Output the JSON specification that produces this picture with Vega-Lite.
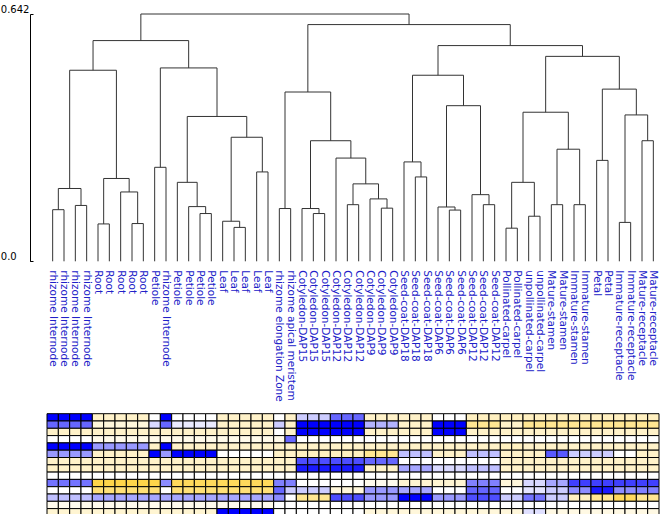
{
"$schema": "https://vega.github.io/schema/vega-lite/v6.json",
"autosize": {"type": "pad"},
"padding": {"top": 4, "left": 0, "right": 0, "bottom": 0},
"background": "white",
"bounds": "flush",
"spacing": 151.7,
"config": {"view": {"stroke": null}, "font": "DejaVu Sans"},
"vconcat": [
{
"width": 612, "height": 247.3,
"layer": [
{
"data": {"name": "merges", "values": [
{"xa":0,"ha":0,"xb":1,"hb":0,"h":0.134},
{"xa":2,"ha":0,"xb":3,"hb":0,"h":0.145},
{"xa":0.5,"ha":0.134,"xb":2.5,"hb":0.145,"h":0.189},
{"xa":4,"ha":0,"xb":5,"hb":0,"h":0.097},
{"xa":7,"ha":0,"xb":8,"hb":0,"h":0.098},
{"xa":6,"ha":0,"xb":7.5,"hb":0.098,"h":0.18},
{"xa":4.5,"ha":0.097,"xb":6.75,"hb":0.18,"h":0.215},
{"xa":1.5,"ha":0.189,"xb":5.625,"hb":0.215,"h":0.496},
{"xa":9,"ha":0,"xb":10,"hb":0,"h":0.244},
{"xa":13,"ha":0,"xb":14,"hb":0,"h":0.124},
{"xa":12,"ha":0,"xb":13.5,"hb":0.124,"h":0.142},
{"xa":11,"ha":0,"xb":12.75,"hb":0.142,"h":0.205},
{"xa":16,"ha":0,"xb":17,"hb":0,"h":0.088},
{"xa":15,"ha":0,"xb":16.5,"hb":0.088,"h":0.104},
{"xa":18,"ha":0,"xb":19,"hb":0,"h":0.232},
{"xa":15.75,"ha":0.104,"xb":18.5,"hb":0.232,"h":0.322},
{"xa":11.875,"ha":0.205,"xb":17.125,"hb":0.322,"h":0.376},
{"xa":9.5,"ha":0.244,"xb":14.5,"hb":0.376,"h":0.502},
{"xa":3.5625,"ha":0.496,"xb":12,"hb":0.502,"h":0.573},
{"xa":20,"ha":0,"xb":21,"hb":0,"h":0.137},
{"xa":23,"ha":0,"xb":24,"hb":0,"h":0.124},
{"xa":22,"ha":0,"xb":23.5,"hb":0.124,"h":0.137},
{"xa":26,"ha":0,"xb":27,"hb":0,"h":0.147},
{"xa":29,"ha":0,"xb":30,"hb":0,"h":0.138},
{"xa":28,"ha":0,"xb":29.5,"hb":0.138,"h":0.162},
{"xa":26.5,"ha":0.147,"xb":28.75,"hb":0.162,"h":0.201},
{"xa":25,"ha":0,"xb":27.625,"hb":0.201,"h":0.268},
{"xa":22.75,"ha":0.137,"xb":26.3125,"hb":0.268,"h":0.313},
{"xa":20.5,"ha":0.137,"xb":24.53125,"hb":0.313,"h":0.4395},
{"xa":32,"ha":0,"xb":33,"hb":0,"h":0.219},
{"xa":31,"ha":0,"xb":32.5,"hb":0.219,"h":0.258},
{"xa":35,"ha":0,"xb":36,"hb":0,"h":0.133},
{"xa":34,"ha":0,"xb":35.5,"hb":0.133,"h":0.141},
{"xa":38,"ha":0,"xb":39,"hb":0,"h":0.147},
{"xa":37,"ha":0,"xb":38.5,"hb":0.147,"h":0.173},
{"xa":34.75,"ha":0.141,"xb":37.75,"hb":0.173,"h":0.404},
{"xa":31.75,"ha":0.258,"xb":36.25,"hb":0.404,"h":0.483},
{"xa":40,"ha":0,"xb":41,"hb":0,"h":0.086},
{"xa":42,"ha":0,"xb":43,"hb":0,"h":0.117},
{"xa":40.5,"ha":0.086,"xb":42.5,"hb":0.117,"h":0.205},
{"xa":44,"ha":0,"xb":45,"hb":0,"h":0.147},
{"xa":46,"ha":0,"xb":47,"hb":0,"h":0.147},
{"xa":44.5,"ha":0.147,"xb":46.5,"hb":0.147,"h":0.291},
{"xa":41.5,"ha":0.205,"xb":45.5,"hb":0.291,"h":0.387},
{"xa":48,"ha":0,"xb":49,"hb":0,"h":0.262},
{"xa":50,"ha":0,"xb":51,"hb":0,"h":0.101},
{"xa":52,"ha":0,"xb":53,"hb":0,"h":0.313},
{"xa":50.5,"ha":0.101,"xb":52.5,"hb":0.313,"h":0.38},
{"xa":48.5,"ha":0.262,"xb":51.5,"hb":0.38,"h":0.447},
{"xa":43.5,"ha":0.387,"xb":50,"hb":0.447,"h":0.532},
{"xa":34,"ha":0.483,"xb":46.75,"hb":0.532,"h":0.56},
{"xa":22.515625,"ha":0.4395,"xb":40.375,"hb":0.56,"h":0.6145},
{"xa":7.78125,"ha":0.573,"xb":31.4453,"hb":0.6145,"h":0.642}
]},
"mark": {"type": "rule", "color": "#333333", "strokeWidth": 1},
"encoding": {
"x": {"field": "xa", "type": "quantitative", "scale": {"domain": [-0.5, 53.5], "nice": false, "zero": false}, "axis": null},
"y": {"field": "ha", "type": "quantitative", "scale": {"domain": [0, 0.642], "nice": false, "zero": false},
"axis": {"title": null, "values": [0, 0.642], "labelExpr": "datum.value == 0 ? '0.0' : format(datum.value, '.3f')", "grid": false, "domainColor": "#000000", "tickColor": "#000000", "tickSize": -3, "labelColor": "#000000", "labelFont": "DejaVu Sans", "labelFontSize": 10, "labelAlign": "left", "labelBaseline": "bottom", "labelPadding": 32.7, "offset": 17}},
"y2": {"field": "h"}
}
},
{
"data": {"name": "merges"},
"mark": {"type": "rule", "color": "#333333", "strokeWidth": 1},
"encoding": {
"x": {"field": "xa", "type": "quantitative"},
"x2": {"field": "xb"},
"y": {"field": "h", "type": "quantitative"}
}
},
{
"data": {"name": "merges"},
"mark": {"type": "rule", "color": "#333333", "strokeWidth": 1},
"encoding": {
"x": {"field": "xb", "type": "quantitative"},
"y": {"field": "hb", "type": "quantitative"},
"y2": {"field": "h"}
}
},
{
"data": {"values": [
{"i":0,"name":"rhizome Internode"},{"i":1,"name":"rhizome Internode"},{"i":2,"name":"rhizome Internode"},{"i":3,"name":"rhizome Internode"},
{"i":4,"name":"Root"},{"i":5,"name":"Root"},{"i":6,"name":"Root"},{"i":7,"name":"Root"},{"i":8,"name":"Root"},
{"i":9,"name":"Petiole"},{"i":10,"name":"rhizome Internode"},
{"i":11,"name":"Petiole"},{"i":12,"name":"Petiole"},{"i":13,"name":"Petiole"},{"i":14,"name":"Petiole"},
{"i":15,"name":"Leaf"},{"i":16,"name":"Leaf"},{"i":17,"name":"Leaf"},{"i":18,"name":"Leaf"},{"i":19,"name":"Leaf"},
{"i":20,"name":"rhizome elongation Zone"},{"i":21,"name":"rhizome apical meristem"},
{"i":22,"name":"Cotyledon-DAP15"},{"i":23,"name":"Cotyledon-DAP15"},{"i":24,"name":"Cotyledon-DAP15"},
{"i":25,"name":"Cotyledon-DAP12"},{"i":26,"name":"Cotyledon-DAP12"},{"i":27,"name":"Cotyledon-DAP12"},
{"i":28,"name":"Cotyledon-DAP9"},{"i":29,"name":"Cotyledon-DAP9"},{"i":30,"name":"Cotyledon-DAP9"},
{"i":31,"name":"Seed-coat-DAP18"},{"i":32,"name":"Seed-coat-DAP18"},{"i":33,"name":"Seed-coat-DAP18"},
{"i":34,"name":"Seed-coat-DAP6"},{"i":35,"name":"Seed-coat-DAP6"},{"i":36,"name":"Seed-coat-DAP6"},
{"i":37,"name":"Seed-coat-DAP12"},{"i":38,"name":"Seed-coat-DAP12"},{"i":39,"name":"Seed-coat-DAP12"},
{"i":40,"name":"Pollinated-carpel"},{"i":41,"name":"Pollinated-carpel"},
{"i":42,"name":"unpollinated-carpel"},{"i":43,"name":"unpollinated-carpel"},
{"i":44,"name":"Mature-stamen"},{"i":45,"name":"Mature-stamen"},
{"i":46,"name":"Immature-stamen"},{"i":47,"name":"Immature-stamen"},
{"i":48,"name":"Petal"},{"i":49,"name":"Petal"},
{"i":50,"name":"Immature-receptacle"},{"i":51,"name":"Immature-receptacle"},
{"i":52,"name":"Mature-receptacle"},{"i":53,"name":"Mature-receptacle"}
]},
"mark": {"type": "text", "angle": 90, "align": "left", "baseline": "middle", "dx": 9, "font": "DejaVu Sans", "fontSize": 10.5, "color": "#2020c8"},
"encoding": {
"x": {"field": "i", "type": "quantitative"},
"y": {"datum": 0, "type": "quantitative"},
"text": {"field": "name"}
}
}
]
},
{
"width": 612, "height": 102.2,
"data": {"values": [
{"r":0,"c":0,"v":1},{"r":0,"c":1,"v":1},{"r":0,"c":2,"v":1},{"r":0,"c":3,"v":1},{"r":0,"c":4,"v":-0.3},{"r":0,"c":5,"v":-0.3},{"r":0,"c":6,"v":-0.3},{"r":0,"c":7,"v":-0.3},{"r":0,"c":8,"v":-0.3},{"r":0,"c":9,"v":0},{"r":0,"c":10,"v":1},{"r":0,"c":11,"v":0},{"r":0,"c":12,"v":0},{"r":0,"c":13,"v":0},{"r":0,"c":14,"v":0},{"r":0,"c":15,"v":-0.3},{"r":0,"c":16,"v":-0.3},{"r":0,"c":17,"v":-0.3},{"r":0,"c":18,"v":-0.3},{"r":0,"c":19,"v":-0.3},{"r":0,"c":20,"v":0},{"r":0,"c":21,"v":-0.3},{"r":0,"c":22,"v":0.2},{"r":0,"c":23,"v":0.2},{"r":0,"c":24,"v":0.2},{"r":0,"c":25,"v":0.6},{"r":0,"c":26,"v":0.6},{"r":0,"c":27,"v":0.6},{"r":0,"c":28,"v":-0.3},{"r":0,"c":29,"v":-0.3},{"r":0,"c":30,"v":-0.3},{"r":0,"c":31,"v":-0.3},{"r":0,"c":32,"v":-0.3},{"r":0,"c":33,"v":-0.3},{"r":0,"c":34,"v":0},{"r":0,"c":35,"v":0},{"r":0,"c":36,"v":0},{"r":0,"c":37,"v":-0.35},{"r":0,"c":38,"v":-0.35},{"r":0,"c":39,"v":-0.35},{"r":0,"c":40,"v":-0.35},{"r":0,"c":41,"v":-0.35},{"r":0,"c":42,"v":-0.35},{"r":0,"c":43,"v":-0.35},{"r":0,"c":44,"v":-0.35},{"r":0,"c":45,"v":-0.35},{"r":0,"c":46,"v":-0.35},{"r":0,"c":47,"v":-0.35},{"r":0,"c":48,"v":-0.35},{"r":0,"c":49,"v":-0.35},{"r":0,"c":50,"v":-0.35},{"r":0,"c":51,"v":-0.35},{"r":0,"c":52,"v":-0.35},{"r":0,"c":53,"v":-0.35},
{"r":1,"c":0,"v":0.6},{"r":1,"c":1,"v":0.6},{"r":1,"c":2,"v":0.6},{"r":1,"c":3,"v":0.6},{"r":1,"c":4,"v":-0.2},{"r":1,"c":5,"v":-0.2},{"r":1,"c":6,"v":-0.2},{"r":1,"c":7,"v":-0.2},{"r":1,"c":8,"v":-0.2},{"r":1,"c":9,"v":0.15},{"r":1,"c":10,"v":0.6},{"r":1,"c":11,"v":0.08},{"r":1,"c":12,"v":0.08},{"r":1,"c":13,"v":0.08},{"r":1,"c":14,"v":0.08},{"r":1,"c":15,"v":-0.3},{"r":1,"c":16,"v":-0.3},{"r":1,"c":17,"v":-0.3},{"r":1,"c":18,"v":-0.3},{"r":1,"c":19,"v":-0.3},{"r":1,"c":20,"v":0.2},{"r":1,"c":21,"v":-0.3},{"r":1,"c":22,"v":1},{"r":1,"c":23,"v":1},{"r":1,"c":24,"v":1},{"r":1,"c":25,"v":1},{"r":1,"c":26,"v":1},{"r":1,"c":27,"v":1},{"r":1,"c":28,"v":0.3},{"r":1,"c":29,"v":0.3},{"r":1,"c":30,"v":0.3},{"r":1,"c":31,"v":-0.3},{"r":1,"c":32,"v":-0.3},{"r":1,"c":33,"v":-0.3},{"r":1,"c":34,"v":1},{"r":1,"c":35,"v":1},{"r":1,"c":36,"v":1},{"r":1,"c":37,"v":-0.6},{"r":1,"c":38,"v":-0.6},{"r":1,"c":39,"v":-0.6},{"r":1,"c":40,"v":-0.3},{"r":1,"c":41,"v":-0.3},{"r":1,"c":42,"v":-0.6},{"r":1,"c":43,"v":-0.6},{"r":1,"c":44,"v":-0.6},{"r":1,"c":45,"v":-0.6},{"r":1,"c":46,"v":-0.6},{"r":1,"c":47,"v":-0.6},{"r":1,"c":48,"v":-0.6},{"r":1,"c":49,"v":-0.6},{"r":1,"c":50,"v":-0.6},{"r":1,"c":51,"v":-0.6},{"r":1,"c":52,"v":-0.6},{"r":1,"c":53,"v":-0.6},
{"r":2,"c":0,"v":-0.3},{"r":2,"c":1,"v":-0.3},{"r":2,"c":2,"v":-0.3},{"r":2,"c":3,"v":-0.3},{"r":2,"c":4,"v":-0.3},{"r":2,"c":5,"v":-0.3},{"r":2,"c":6,"v":-0.3},{"r":2,"c":7,"v":-0.3},{"r":2,"c":8,"v":-0.3},{"r":2,"c":9,"v":-0.3},{"r":2,"c":10,"v":-0.3},{"r":2,"c":11,"v":-0.3},{"r":2,"c":12,"v":-0.3},{"r":2,"c":13,"v":-0.3},{"r":2,"c":14,"v":-0.3},{"r":2,"c":15,"v":-0.3},{"r":2,"c":16,"v":-0.3},{"r":2,"c":17,"v":-0.3},{"r":2,"c":18,"v":-0.3},{"r":2,"c":19,"v":-0.3},{"r":2,"c":20,"v":0},{"r":2,"c":21,"v":-0.3},{"r":2,"c":22,"v":1},{"r":2,"c":23,"v":1},{"r":2,"c":24,"v":1},{"r":2,"c":25,"v":1},{"r":2,"c":26,"v":1},{"r":2,"c":27,"v":1},{"r":2,"c":28,"v":-0.3},{"r":2,"c":29,"v":-0.3},{"r":2,"c":30,"v":-0.3},{"r":2,"c":31,"v":-0.3},{"r":2,"c":32,"v":-0.3},{"r":2,"c":33,"v":-0.3},{"r":2,"c":34,"v":1},{"r":2,"c":35,"v":1},{"r":2,"c":36,"v":1},{"r":2,"c":37,"v":-0.3},{"r":2,"c":38,"v":-0.3},{"r":2,"c":39,"v":-0.3},{"r":2,"c":40,"v":-0.3},{"r":2,"c":41,"v":-0.3},{"r":2,"c":42,"v":-0.3},{"r":2,"c":43,"v":-0.3},{"r":2,"c":44,"v":-0.3},{"r":2,"c":45,"v":-0.3},{"r":2,"c":46,"v":-0.3},{"r":2,"c":47,"v":-0.3},{"r":2,"c":48,"v":-0.3},{"r":2,"c":49,"v":-0.3},{"r":2,"c":50,"v":-0.3},{"r":2,"c":51,"v":-0.3},{"r":2,"c":52,"v":-0.3},{"r":2,"c":53,"v":-0.3},
{"r":3,"c":0,"v":0},{"r":3,"c":1,"v":0},{"r":3,"c":2,"v":0},{"r":3,"c":3,"v":0},{"r":3,"c":4,"v":-0.12},{"r":3,"c":5,"v":-0.12},{"r":3,"c":6,"v":-0.12},{"r":3,"c":7,"v":-0.12},{"r":3,"c":8,"v":-0.12},{"r":3,"c":9,"v":-0.12},{"r":3,"c":10,"v":-0.12},{"r":3,"c":11,"v":-0.12},{"r":3,"c":12,"v":-0.12},{"r":3,"c":13,"v":-0.12},{"r":3,"c":14,"v":-0.12},{"r":3,"c":15,"v":-0.12},{"r":3,"c":16,"v":-0.12},{"r":3,"c":17,"v":-0.12},{"r":3,"c":18,"v":-0.12},{"r":3,"c":19,"v":-0.12},{"r":3,"c":20,"v":-0.12},{"r":3,"c":21,"v":0.6},{"r":3,"c":22,"v":0},{"r":3,"c":23,"v":0},{"r":3,"c":24,"v":0},{"r":3,"c":25,"v":0},{"r":3,"c":26,"v":0},{"r":3,"c":27,"v":0},{"r":3,"c":28,"v":0},{"r":3,"c":29,"v":0},{"r":3,"c":30,"v":0},{"r":3,"c":31,"v":0},{"r":3,"c":32,"v":0},{"r":3,"c":33,"v":0},{"r":3,"c":34,"v":0},{"r":3,"c":35,"v":0},{"r":3,"c":36,"v":0},{"r":3,"c":37,"v":0},{"r":3,"c":38,"v":0},{"r":3,"c":39,"v":0},{"r":3,"c":40,"v":0},{"r":3,"c":41,"v":0},{"r":3,"c":42,"v":0},{"r":3,"c":43,"v":0},{"r":3,"c":44,"v":0},{"r":3,"c":45,"v":0},{"r":3,"c":46,"v":0},{"r":3,"c":47,"v":0},{"r":3,"c":48,"v":0},{"r":3,"c":49,"v":0},{"r":3,"c":50,"v":0},{"r":3,"c":51,"v":0},{"r":3,"c":52,"v":0},{"r":3,"c":53,"v":0},
{"r":4,"c":0,"v":1},{"r":4,"c":1,"v":1},{"r":4,"c":2,"v":1},{"r":4,"c":3,"v":1},{"r":4,"c":4,"v":0.4},{"r":4,"c":5,"v":0.4},{"r":4,"c":6,"v":0.4},{"r":4,"c":7,"v":0.4},{"r":4,"c":8,"v":0.4},{"r":4,"c":9,"v":-0.3},{"r":4,"c":10,"v":1},{"r":4,"c":11,"v":-0.3},{"r":4,"c":12,"v":-0.3},{"r":4,"c":13,"v":-0.3},{"r":4,"c":14,"v":-0.3},{"r":4,"c":15,"v":-0.3},{"r":4,"c":16,"v":-0.3},{"r":4,"c":17,"v":-0.3},{"r":4,"c":18,"v":-0.3},{"r":4,"c":19,"v":-0.3},{"r":4,"c":20,"v":-0.3},{"r":4,"c":21,"v":-0.3},{"r":4,"c":22,"v":-0.3},{"r":4,"c":23,"v":-0.3},{"r":4,"c":24,"v":-0.3},{"r":4,"c":25,"v":-0.3},{"r":4,"c":26,"v":-0.3},{"r":4,"c":27,"v":-0.3},{"r":4,"c":28,"v":-0.3},{"r":4,"c":29,"v":-0.3},{"r":4,"c":30,"v":-0.3},{"r":4,"c":31,"v":-0.3},{"r":4,"c":32,"v":-0.3},{"r":4,"c":33,"v":-0.3},{"r":4,"c":34,"v":-0.3},{"r":4,"c":35,"v":-0.3},{"r":4,"c":36,"v":-0.3},{"r":4,"c":37,"v":-0.3},{"r":4,"c":38,"v":-0.3},{"r":4,"c":39,"v":-0.3},{"r":4,"c":40,"v":-0.35},{"r":4,"c":41,"v":-0.35},{"r":4,"c":42,"v":-0.3},{"r":4,"c":43,"v":-0.3},{"r":4,"c":44,"v":-0.3},{"r":4,"c":45,"v":-0.3},{"r":4,"c":46,"v":-0.3},{"r":4,"c":47,"v":-0.3},{"r":4,"c":48,"v":-0.3},{"r":4,"c":49,"v":-0.3},{"r":4,"c":50,"v":-0.3},{"r":4,"c":51,"v":-0.3},{"r":4,"c":52,"v":-0.3},{"r":4,"c":53,"v":-0.3},
{"r":5,"c":0,"v":0.4},{"r":5,"c":1,"v":0.4},{"r":5,"c":2,"v":0.4},{"r":5,"c":3,"v":0.4},{"r":5,"c":4,"v":-0.3},{"r":5,"c":5,"v":-0.3},{"r":5,"c":6,"v":-0.3},{"r":5,"c":7,"v":-0.3},{"r":5,"c":8,"v":-0.3},{"r":5,"c":9,"v":1},{"r":5,"c":10,"v":0.4},{"r":5,"c":11,"v":1},{"r":5,"c":12,"v":1},{"r":5,"c":13,"v":1},{"r":5,"c":14,"v":1},{"r":5,"c":15,"v":0},{"r":5,"c":16,"v":0},{"r":5,"c":17,"v":0},{"r":5,"c":18,"v":0},{"r":5,"c":19,"v":0},{"r":5,"c":20,"v":-0.3},{"r":5,"c":21,"v":-0.3},{"r":5,"c":22,"v":-0.35},{"r":5,"c":23,"v":-0.35},{"r":5,"c":24,"v":-0.35},{"r":5,"c":25,"v":-0.35},{"r":5,"c":26,"v":-0.35},{"r":5,"c":27,"v":-0.35},{"r":5,"c":28,"v":-0.6},{"r":5,"c":29,"v":-0.6},{"r":5,"c":30,"v":-0.6},{"r":5,"c":31,"v":0.25},{"r":5,"c":32,"v":0.25},{"r":5,"c":33,"v":0.25},{"r":5,"c":34,"v":-0.3},{"r":5,"c":35,"v":-0.3},{"r":5,"c":36,"v":-0.3},{"r":5,"c":37,"v":0.25},{"r":5,"c":38,"v":0.25},{"r":5,"c":39,"v":0.25},{"r":5,"c":40,"v":-0.3},{"r":5,"c":41,"v":-0.3},{"r":5,"c":42,"v":-0.3},{"r":5,"c":43,"v":-0.3},{"r":5,"c":44,"v":0.65},{"r":5,"c":45,"v":0.65},{"r":5,"c":46,"v":0.2},{"r":5,"c":47,"v":0.2},{"r":5,"c":48,"v":0.2},{"r":5,"c":49,"v":0.2},{"r":5,"c":50,"v":0},{"r":5,"c":51,"v":0},{"r":5,"c":52,"v":-0.3},{"r":5,"c":53,"v":-0.3},
{"r":6,"c":0,"v":-0.3},{"r":6,"c":1,"v":-0.3},{"r":6,"c":2,"v":-0.3},{"r":6,"c":3,"v":-0.3},{"r":6,"c":4,"v":-0.3},{"r":6,"c":5,"v":-0.3},{"r":6,"c":6,"v":-0.3},{"r":6,"c":7,"v":-0.3},{"r":6,"c":8,"v":-0.3},{"r":6,"c":9,"v":-0.3},{"r":6,"c":10,"v":-0.3},{"r":6,"c":11,"v":-0.3},{"r":6,"c":12,"v":-0.3},{"r":6,"c":13,"v":-0.3},{"r":6,"c":14,"v":-0.3},{"r":6,"c":15,"v":-0.3},{"r":6,"c":16,"v":-0.3},{"r":6,"c":17,"v":-0.3},{"r":6,"c":18,"v":-0.3},{"r":6,"c":19,"v":-0.3},{"r":6,"c":20,"v":-0.3},{"r":6,"c":21,"v":-0.3},{"r":6,"c":22,"v":0.7},{"r":6,"c":23,"v":0.7},{"r":6,"c":24,"v":0.7},{"r":6,"c":25,"v":0.7},{"r":6,"c":26,"v":0.7},{"r":6,"c":27,"v":0.7},{"r":6,"c":28,"v":0.6},{"r":6,"c":29,"v":0.6},{"r":6,"c":30,"v":0.6},{"r":6,"c":31,"v":0},{"r":6,"c":32,"v":0},{"r":6,"c":33,"v":0},{"r":6,"c":34,"v":0},{"r":6,"c":35,"v":0},{"r":6,"c":36,"v":0},{"r":6,"c":37,"v":0},{"r":6,"c":38,"v":0},{"r":6,"c":39,"v":0},{"r":6,"c":40,"v":-0.3},{"r":6,"c":41,"v":-0.3},{"r":6,"c":42,"v":-0.3},{"r":6,"c":43,"v":-0.3},{"r":6,"c":44,"v":-0.3},{"r":6,"c":45,"v":-0.3},{"r":6,"c":46,"v":-0.3},{"r":6,"c":47,"v":-0.3},{"r":6,"c":48,"v":-0.3},{"r":6,"c":49,"v":-0.3},{"r":6,"c":50,"v":-0.3},{"r":6,"c":51,"v":-0.3},{"r":6,"c":52,"v":-0.3},{"r":6,"c":53,"v":-0.3},
{"r":7,"c":0,"v":-0.3},{"r":7,"c":1,"v":-0.3},{"r":7,"c":2,"v":-0.3},{"r":7,"c":3,"v":-0.3},{"r":7,"c":4,"v":-0.3},{"r":7,"c":5,"v":-0.3},{"r":7,"c":6,"v":-0.3},{"r":7,"c":7,"v":-0.3},{"r":7,"c":8,"v":-0.3},{"r":7,"c":9,"v":-0.3},{"r":7,"c":10,"v":-0.3},{"r":7,"c":11,"v":-0.3},{"r":7,"c":12,"v":-0.3},{"r":7,"c":13,"v":-0.3},{"r":7,"c":14,"v":-0.3},{"r":7,"c":15,"v":-0.3},{"r":7,"c":16,"v":-0.3},{"r":7,"c":17,"v":-0.3},{"r":7,"c":18,"v":-0.3},{"r":7,"c":19,"v":-0.3},{"r":7,"c":20,"v":-0.3},{"r":7,"c":21,"v":-0.3},{"r":7,"c":22,"v":0.9},{"r":7,"c":23,"v":0.9},{"r":7,"c":24,"v":0.9},{"r":7,"c":25,"v":0.9},{"r":7,"c":26,"v":0.9},{"r":7,"c":27,"v":0.9},{"r":7,"c":28,"v":-0.3},{"r":7,"c":29,"v":-0.3},{"r":7,"c":30,"v":-0.3},{"r":7,"c":31,"v":0.35},{"r":7,"c":32,"v":0.35},{"r":7,"c":33,"v":0.35},{"r":7,"c":34,"v":0.15},{"r":7,"c":35,"v":0.15},{"r":7,"c":36,"v":0.15},{"r":7,"c":37,"v":0.25},{"r":7,"c":38,"v":0.25},{"r":7,"c":39,"v":0.25},{"r":7,"c":40,"v":-0.3},{"r":7,"c":41,"v":-0.3},{"r":7,"c":42,"v":-0.3},{"r":7,"c":43,"v":-0.3},{"r":7,"c":44,"v":-0.3},{"r":7,"c":45,"v":-0.3},{"r":7,"c":46,"v":-0.3},{"r":7,"c":47,"v":-0.3},{"r":7,"c":48,"v":-0.3},{"r":7,"c":49,"v":-0.3},{"r":7,"c":50,"v":-0.3},{"r":7,"c":51,"v":-0.3},{"r":7,"c":52,"v":-0.3},{"r":7,"c":53,"v":-0.3},
{"r":8,"c":0,"v":0},{"r":8,"c":1,"v":0},{"r":8,"c":2,"v":0},{"r":8,"c":3,"v":0},{"r":8,"c":4,"v":0},{"r":8,"c":5,"v":0},{"r":8,"c":6,"v":0},{"r":8,"c":7,"v":0},{"r":8,"c":8,"v":0},{"r":8,"c":9,"v":0},{"r":8,"c":10,"v":0},{"r":8,"c":11,"v":0},{"r":8,"c":12,"v":0},{"r":8,"c":13,"v":0},{"r":8,"c":14,"v":0},{"r":8,"c":15,"v":0},{"r":8,"c":16,"v":0},{"r":8,"c":17,"v":0},{"r":8,"c":18,"v":0},{"r":8,"c":19,"v":0},{"r":8,"c":20,"v":0},{"r":8,"c":21,"v":0},{"r":8,"c":22,"v":0},{"r":8,"c":23,"v":0},{"r":8,"c":24,"v":0},{"r":8,"c":25,"v":0},{"r":8,"c":26,"v":0},{"r":8,"c":27,"v":0},{"r":8,"c":28,"v":0},{"r":8,"c":29,"v":0},{"r":8,"c":30,"v":0},{"r":8,"c":31,"v":0},{"r":8,"c":32,"v":0},{"r":8,"c":33,"v":0},{"r":8,"c":34,"v":0},{"r":8,"c":35,"v":0},{"r":8,"c":36,"v":0},{"r":8,"c":37,"v":0},{"r":8,"c":38,"v":0},{"r":8,"c":39,"v":0},{"r":8,"c":40,"v":0},{"r":8,"c":41,"v":0},{"r":8,"c":42,"v":0},{"r":8,"c":43,"v":0},{"r":8,"c":44,"v":0},{"r":8,"c":45,"v":0},{"r":8,"c":46,"v":0},{"r":8,"c":47,"v":0},{"r":8,"c":48,"v":0},{"r":8,"c":49,"v":0},{"r":8,"c":50,"v":0},{"r":8,"c":51,"v":0},{"r":8,"c":52,"v":0},{"r":8,"c":53,"v":0},
{"r":9,"c":0,"v":0.55},{"r":9,"c":1,"v":0.55},{"r":9,"c":2,"v":0.55},{"r":9,"c":3,"v":0.55},{"r":9,"c":4,"v":-1},{"r":9,"c":5,"v":-1},{"r":9,"c":6,"v":-1},{"r":9,"c":7,"v":-1},{"r":9,"c":8,"v":-1},{"r":9,"c":9,"v":-1},{"r":9,"c":10,"v":0.45},{"r":9,"c":11,"v":-0.9},{"r":9,"c":12,"v":-0.9},{"r":9,"c":13,"v":-0.9},{"r":9,"c":14,"v":-0.9},{"r":9,"c":15,"v":-0.9},{"r":9,"c":16,"v":-0.9},{"r":9,"c":17,"v":-0.9},{"r":9,"c":18,"v":-0.9},{"r":9,"c":19,"v":-0.9},{"r":9,"c":20,"v":0.5},{"r":9,"c":21,"v":0.5},{"r":9,"c":22,"v":0},{"r":9,"c":23,"v":0},{"r":9,"c":24,"v":0},{"r":9,"c":25,"v":0},{"r":9,"c":26,"v":0},{"r":9,"c":27,"v":0},{"r":9,"c":28,"v":-0.1},{"r":9,"c":29,"v":-0.1},{"r":9,"c":30,"v":-0.1},{"r":9,"c":31,"v":-0.25},{"r":9,"c":32,"v":-0.25},{"r":9,"c":33,"v":-0.25},{"r":9,"c":34,"v":-0.25},{"r":9,"c":35,"v":-0.25},{"r":9,"c":36,"v":-0.25},{"r":9,"c":37,"v":0.5},{"r":9,"c":38,"v":0.5},{"r":9,"c":39,"v":0.5},{"r":9,"c":40,"v":-0.2},{"r":9,"c":41,"v":-0.2},{"r":9,"c":42,"v":0.15},{"r":9,"c":43,"v":0.15},{"r":9,"c":44,"v":0.35},{"r":9,"c":45,"v":0.35},{"r":9,"c":46,"v":0.75},{"r":9,"c":47,"v":0.75},{"r":9,"c":48,"v":0.75},{"r":9,"c":49,"v":0.75},{"r":9,"c":50,"v":0.75},{"r":9,"c":51,"v":0.75},{"r":9,"c":52,"v":0.75},{"r":9,"c":53,"v":0.75},
{"r":10,"c":0,"v":0},{"r":10,"c":1,"v":0},{"r":10,"c":2,"v":0},{"r":10,"c":3,"v":0},{"r":10,"c":4,"v":-0.75},{"r":10,"c":5,"v":-0.75},{"r":10,"c":6,"v":-0.75},{"r":10,"c":7,"v":-0.75},{"r":10,"c":8,"v":-0.75},{"r":10,"c":9,"v":-0.75},{"r":10,"c":10,"v":0},{"r":10,"c":11,"v":-0.75},{"r":10,"c":12,"v":-0.75},{"r":10,"c":13,"v":-0.75},{"r":10,"c":14,"v":-0.75},{"r":10,"c":15,"v":-0.75},{"r":10,"c":16,"v":-0.75},{"r":10,"c":17,"v":-0.75},{"r":10,"c":18,"v":-0.75},{"r":10,"c":19,"v":-0.75},{"r":10,"c":20,"v":0.6},{"r":10,"c":21,"v":0.2},{"r":10,"c":22,"v":0.2},{"r":10,"c":23,"v":0.2},{"r":10,"c":24,"v":0.2},{"r":10,"c":25,"v":-0.2},{"r":10,"c":26,"v":-0.2},{"r":10,"c":27,"v":-0.2},{"r":10,"c":28,"v":0.4},{"r":10,"c":29,"v":0.4},{"r":10,"c":30,"v":0.4},{"r":10,"c":31,"v":0.35},{"r":10,"c":32,"v":0.35},{"r":10,"c":33,"v":0.35},{"r":10,"c":34,"v":0},{"r":10,"c":35,"v":0},{"r":10,"c":36,"v":0},{"r":10,"c":37,"v":0.6},{"r":10,"c":38,"v":0.6},{"r":10,"c":39,"v":0.6},{"r":10,"c":40,"v":0},{"r":10,"c":41,"v":0},{"r":10,"c":42,"v":0.1},{"r":10,"c":43,"v":0.1},{"r":10,"c":44,"v":0.2},{"r":10,"c":45,"v":0.2},{"r":10,"c":46,"v":0.45},{"r":10,"c":47,"v":0.45},{"r":10,"c":48,"v":0.9},{"r":10,"c":49,"v":0.9},{"r":10,"c":50,"v":0.45},{"r":10,"c":51,"v":0.45},{"r":10,"c":52,"v":0.5},{"r":10,"c":53,"v":0.5},
{"r":11,"c":0,"v":0.25},{"r":11,"c":1,"v":0.25},{"r":11,"c":2,"v":0.25},{"r":11,"c":3,"v":0.25},{"r":11,"c":4,"v":0.35},{"r":11,"c":5,"v":0.35},{"r":11,"c":6,"v":0.35},{"r":11,"c":7,"v":0.35},{"r":11,"c":8,"v":0.35},{"r":11,"c":9,"v":0.35},{"r":11,"c":10,"v":0.35},{"r":11,"c":11,"v":0.35},{"r":11,"c":12,"v":0.35},{"r":11,"c":13,"v":0.35},{"r":11,"c":14,"v":0.35},{"r":11,"c":15,"v":0.35},{"r":11,"c":16,"v":0.35},{"r":11,"c":17,"v":0.35},{"r":11,"c":18,"v":0.35},{"r":11,"c":19,"v":0.35},{"r":11,"c":20,"v":0.45},{"r":11,"c":21,"v":0},{"r":11,"c":22,"v":-0.6},{"r":11,"c":23,"v":-0.6},{"r":11,"c":24,"v":-0.6},{"r":11,"c":25,"v":0.7},{"r":11,"c":26,"v":0.7},{"r":11,"c":27,"v":0.7},{"r":11,"c":28,"v":0.4},{"r":11,"c":29,"v":0.4},{"r":11,"c":30,"v":0.4},{"r":11,"c":31,"v":1},{"r":11,"c":32,"v":1},{"r":11,"c":33,"v":1},{"r":11,"c":34,"v":0.4},{"r":11,"c":35,"v":0.4},{"r":11,"c":36,"v":0.4},{"r":11,"c":37,"v":0.7},{"r":11,"c":38,"v":0.7},{"r":11,"c":39,"v":0.7},{"r":11,"c":40,"v":0.2},{"r":11,"c":41,"v":0.2},{"r":11,"c":42,"v":0.55},{"r":11,"c":43,"v":0.55},{"r":11,"c":44,"v":0.2},{"r":11,"c":45,"v":0.2},{"r":11,"c":46,"v":-0.35},{"r":11,"c":47,"v":-0.35},{"r":11,"c":48,"v":-0.6},{"r":11,"c":49,"v":-0.6},{"r":11,"c":50,"v":-0.9},{"r":11,"c":51,"v":-0.9},{"r":11,"c":52,"v":-0.6},{"r":11,"c":53,"v":-0.6},
{"r":12,"c":0,"v":-0.1},{"r":12,"c":1,"v":-0.1},{"r":12,"c":2,"v":-0.1},{"r":12,"c":3,"v":-0.1},{"r":12,"c":4,"v":-0.1},{"r":12,"c":5,"v":-0.1},{"r":12,"c":6,"v":-0.1},{"r":12,"c":7,"v":-0.1},{"r":12,"c":8,"v":-0.1},{"r":12,"c":9,"v":-0.1},{"r":12,"c":10,"v":-0.1},{"r":12,"c":11,"v":-0.1},{"r":12,"c":12,"v":-0.1},{"r":12,"c":13,"v":-0.1},{"r":12,"c":14,"v":-0.1},{"r":12,"c":15,"v":-0.1},{"r":12,"c":16,"v":-0.1},{"r":12,"c":17,"v":-0.1},{"r":12,"c":18,"v":-0.1},{"r":12,"c":19,"v":-0.1},{"r":12,"c":20,"v":0},{"r":12,"c":21,"v":0},{"r":12,"c":22,"v":0},{"r":12,"c":23,"v":0},{"r":12,"c":24,"v":0},{"r":12,"c":25,"v":0},{"r":12,"c":26,"v":0},{"r":12,"c":27,"v":0},{"r":12,"c":28,"v":0},{"r":12,"c":29,"v":0},{"r":12,"c":30,"v":0},{"r":12,"c":31,"v":0},{"r":12,"c":32,"v":0},{"r":12,"c":33,"v":0},{"r":12,"c":34,"v":0},{"r":12,"c":35,"v":0},{"r":12,"c":36,"v":0},{"r":12,"c":37,"v":0},{"r":12,"c":38,"v":0},{"r":12,"c":39,"v":0},{"r":12,"c":40,"v":0},{"r":12,"c":41,"v":0},{"r":12,"c":42,"v":0},{"r":12,"c":43,"v":0},{"r":12,"c":44,"v":0},{"r":12,"c":45,"v":0},{"r":12,"c":46,"v":0},{"r":12,"c":47,"v":0},{"r":12,"c":48,"v":0},{"r":12,"c":49,"v":0},{"r":12,"c":50,"v":0},{"r":12,"c":51,"v":0},{"r":12,"c":52,"v":0},{"r":12,"c":53,"v":0},
{"r":13,"c":0,"v":-0.25},{"r":13,"c":1,"v":-0.25},{"r":13,"c":2,"v":-0.25},{"r":13,"c":3,"v":-0.25},{"r":13,"c":4,"v":-0.25},{"r":13,"c":5,"v":-0.25},{"r":13,"c":6,"v":-0.25},{"r":13,"c":7,"v":-0.25},{"r":13,"c":8,"v":-0.25},{"r":13,"c":9,"v":-0.25},{"r":13,"c":10,"v":-0.25},{"r":13,"c":11,"v":-0.25},{"r":13,"c":12,"v":-0.25},{"r":13,"c":13,"v":-0.25},{"r":13,"c":14,"v":-0.25},{"r":13,"c":15,"v":1},{"r":13,"c":16,"v":1},{"r":13,"c":17,"v":1},{"r":13,"c":18,"v":1},{"r":13,"c":19,"v":1},{"r":13,"c":20,"v":0},{"r":13,"c":21,"v":0},{"r":13,"c":22,"v":0},{"r":13,"c":23,"v":0},{"r":13,"c":24,"v":0},{"r":13,"c":25,"v":0},{"r":13,"c":26,"v":0},{"r":13,"c":27,"v":0},{"r":13,"c":28,"v":-0.2},{"r":13,"c":29,"v":-0.2},{"r":13,"c":30,"v":-0.2},{"r":13,"c":31,"v":-0.2},{"r":13,"c":32,"v":-0.2},{"r":13,"c":33,"v":-0.2},{"r":13,"c":34,"v":-0.2},{"r":13,"c":35,"v":-0.2},{"r":13,"c":36,"v":-0.2},{"r":13,"c":37,"v":-0.2},{"r":13,"c":38,"v":-0.2},{"r":13,"c":39,"v":-0.2},{"r":13,"c":40,"v":-0.2},{"r":13,"c":41,"v":-0.2},{"r":13,"c":42,"v":0.12},{"r":13,"c":43,"v":0.12},{"r":13,"c":44,"v":-0.15},{"r":13,"c":45,"v":-0.15},{"r":13,"c":46,"v":-0.15},{"r":13,"c":47,"v":-0.15},{"r":13,"c":48,"v":-0.15},{"r":13,"c":49,"v":-0.15},{"r":13,"c":50,"v":-0.15},{"r":13,"c":51,"v":-0.15},{"r":13,"c":52,"v":-0.15},{"r":13,"c":53,"v":-0.15}
]},
"mark": {"type": "rect", "stroke": "#000000", "strokeWidth": 1},
"encoding": {
"x": {"field": "c", "type": "ordinal", "axis": null, "scale": {"paddingInner": 0, "paddingOuter": 0}},
"y": {"field": "r", "type": "ordinal", "axis": null, "scale": {"paddingInner": 0, "paddingOuter": 0}},
"color": {"field": "v", "type": "quantitative", "legend": null, "scale": {"type": "linear", "domain": [-1, 0, 1], "range": ["#ffd54a", "#ffffff", "#0000ff"], "interpolate": "rgb", "zero": false, "nice": false}}
}
}
]
}
